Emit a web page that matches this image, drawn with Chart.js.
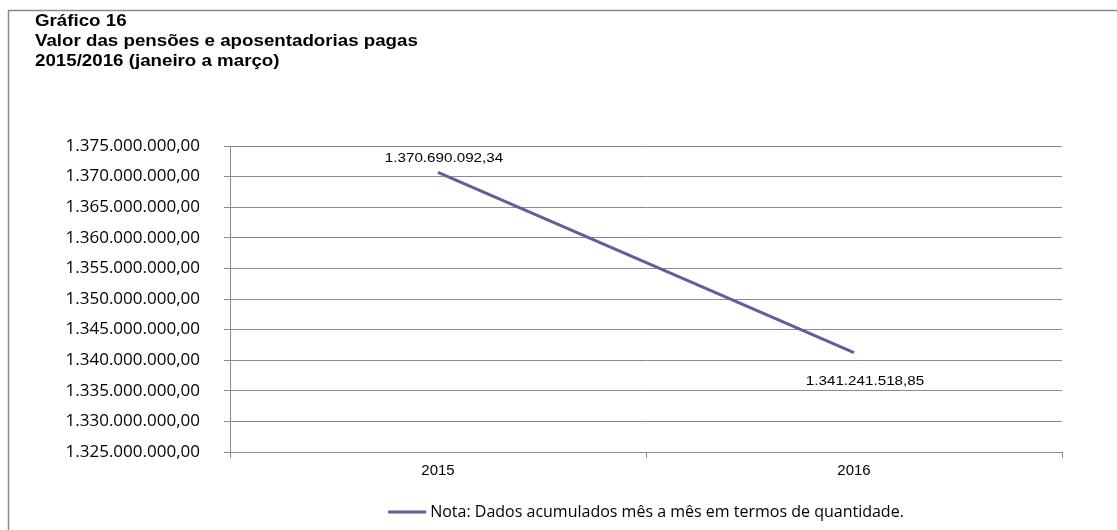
<!DOCTYPE html>
<html>
<head>
<meta charset="utf-8">
<script src="https://cdn.jsdelivr.net/npm/chart.js@4/dist/chart.umd.min.js"></script>
<style>
  html, body { margin: 0; padding: 0; background: #fff; }
  #wrap { width: 1117px; height: 530px; position: relative; }
</style>
</head>
<body>
<div id="wrap"><canvas id="grafico16" width="1117" height="530"></canvas></div>
<script>
// dados do gráfico
var anos = ['2015', '2016'];
var valores = [1370690092.34, 1341241518.85];
var rotulosValores = ['1.370.690.092,34', '1.341.241.518,85'];
var tituloLinhas = ['Gráfico 16', 'Valor das pensões e aposentadorias pagas', '2015/2016 (janeiro a março)'];
var legenda = 'Nota: Dados acumulados mês a mês em termos de quantidade.';
var eixoMin = 1325000000, eixoMax = 1375000000, eixoPasso = 5000000;

var corLinha = '#5f5f99';
var corGrade = '#8c8c8c';
var esticar = 1.17; // a imagem original é esticada na horizontal

function formataBR(v) {
    var partes = v.toFixed(2).split('.');
    var inteiro = partes[0].replace(/\B(?=(\d{3})+(?!\d))/g, '.');
    return inteiro + ',' + partes[1];
}

function textoEsticado(ctx, texto, x, y) {
    ctx.save();
    ctx.translate(x, y);
    ctx.scale(esticar, 1);
    ctx.fillText(texto, 0, 0);
    ctx.restore();
}

// moldura e título
var molduraTitulo = {
    id: 'molduraTitulo',
    beforeDraw: function(chart) {
        var ctx = chart.ctx;
        ctx.save();
        ctx.strokeStyle = '#8a8a8a';
        ctx.lineWidth = 1.5;
        ctx.beginPath();
        ctx.moveTo(8.5, 530);
        ctx.lineTo(8.5, 10.5);
        ctx.lineTo(1117, 10.5);
        ctx.stroke();
        ctx.fillStyle = '#000';
        ctx.font = 'bold 16px Arial, "Liberation Sans", sans-serif';
        ctx.textBaseline = 'middle';
        ctx.textAlign = 'left';
        tituloLinhas.forEach(function(linha, i) {
            textoEsticado(ctx, linha, 35, 22 + i * 20);
        });
        ctx.restore();
    }
};

// rótulos de dados
var rotulosDados = {
    id: 'rotulosDados',
    afterDatasetsDraw: function(chart) {
        var ctx = chart.ctx;
        var meta = chart.getDatasetMeta(0);
        ctx.save();
        ctx.fillStyle = '#000';
        ctx.font = '13px Arial, "Liberation Sans", sans-serif';
        ctx.textAlign = 'center';
        ctx.textBaseline = 'middle';
        meta.data.forEach(function(p, i) {
            var dx = i === 0 ? 6 : 11;
            var dy = i === 0 ? -14 : 29;
            textoEsticado(ctx, rotulosValores[i], p.x + dx, p.y + dy);
        });
        ctx.restore();
    }
};

// legenda centrada na área do gráfico
var legendaNota = {
    id: 'legendaNota',
    afterDraw: function(chart) {
        var ctx = chart.ctx;
        var area = chart.chartArea;
        var ds = chart.data.datasets[0];
        ctx.save();
        ctx.font = '16px "Open Sans", sans-serif';
        var larguraTexto = ctx.measureText(ds.label).width;
        var total = 38 + 4 + larguraTexto;
        var x = (area.left + area.right) / 2 - total / 2;
        var y = 512;
        ctx.strokeStyle = ds.borderColor;
        ctx.lineWidth = 3;
        ctx.beginPath();
        ctx.moveTo(x, y);
        ctx.lineTo(x + 38, y);
        ctx.stroke();
        ctx.fillStyle = '#000';
        ctx.textAlign = 'left';
        ctx.textBaseline = 'middle';
        ctx.fillText(ds.label, x + 42, y);
        ctx.restore();
    }
};

var grafico = new Chart(document.getElementById('grafico16').getContext('2d'), {
    type: 'line',
    data: {
        labels: anos,
        datasets: [{
            label: legenda,
            data: valores,
            borderColor: corLinha,
            backgroundColor: corLinha,
            borderWidth: 3,
            pointRadius: 0,
            pointHoverRadius: 0,
            fill: false,
            tension: 0
        }]
    },
    options: {
        responsive: false,
        animation: false,
        layout: { padding: { top: 146, right: 55, left: 0, bottom: 31 } },
        plugins: {
            tooltip: { enabled: false },
            title: { display: false },
            legend: { display: false }
        },
        scales: {
            x: {
                offset: true,
                grid: {
                    offset: true,
                    drawOnChartArea: false,
                    drawTicks: true,
                    tickLength: 6,
                    color: corGrade
                },
                border: { color: corGrade, width: 1 },
                ticks: {
                    color: '#000',
                    padding: 4,
                    font: { family: 'Arial, "Liberation Sans", sans-serif', size: 15 }
                },
                afterFit: function(scale) { scale.height = 47; }
            },
            y: {
                min: eixoMin,
                max: eixoMax,
                grid: {
                    color: corGrade,
                    tickLength: 6,
                    lineWidth: 1
                },
                border: { color: corGrade, width: 1 },
                ticks: {
                    stepSize: eixoPasso,
                    color: '#000',
                    padding: 24,
                    font: { family: '"Open Sans", sans-serif', size: 17 },
                    callback: function(v) { return formataBR(v); }
                },
                afterFit: function(scale) { scale.width = 230; }
            }
        }
    },
    plugins: [molduraTitulo, rotulosDados, legendaNota]
});
</script>
</body>
</html>
